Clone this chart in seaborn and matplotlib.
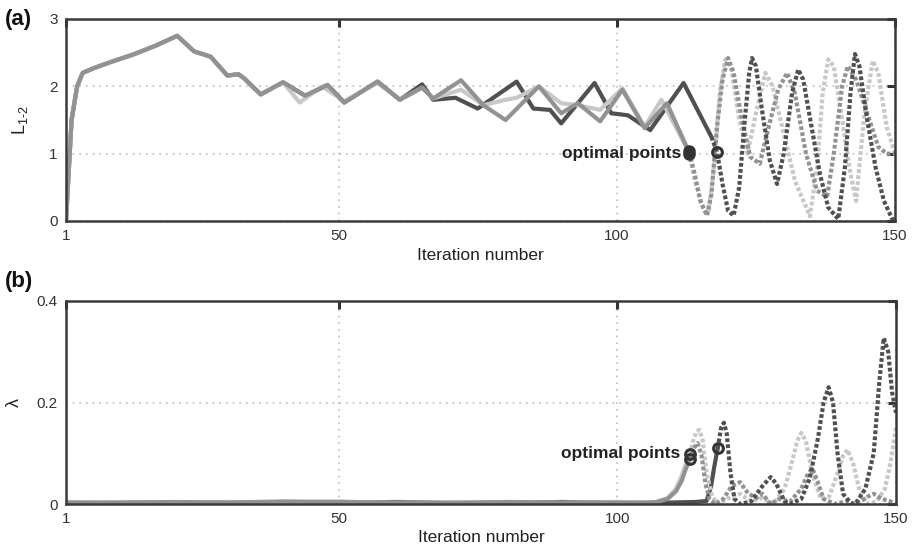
import matplotlib
matplotlib.use("Agg")
import matplotlib.pyplot as plt
import seaborn as sns
import pandas as pd

# ---------------- data (knots) ----------------
xticks = [1, 50, 100, 150]
top_yticks = [0, 1, 2, 3]
bot_yticks = [0, 0.2, 0.4]
bot_yticklabels = ["0", "0.2", "0.4"]

common_x = [1, 2, 3, 4, 6, 9, 13, 17, 21, 24, 27, 30, 32, 33, 36, 40]
common_y = [0, 1.5, 2.0, 2.2, 2.27, 2.36, 2.47, 2.6, 2.75, 2.52, 2.44, 2.16, 2.18, 2.12, 1.88, 2.06]

# panel (a) solid parts
light_a_x = [43, 47, 51, 57, 61, 65, 67, 72, 76, 80, 82, 86, 90, 93, 97, 101, 105, 108, 113]
light_a_y = [1.76, 2.0, 1.78, 2.05, 1.8, 1.98, 1.82, 1.95, 1.72, 1.8, 1.83, 2.0, 1.75, 1.72, 1.65, 1.97, 1.4, 1.8, 1.02]
mid_a_x = [44, 48, 51, 57, 61, 65, 67, 72, 76, 80, 86, 90, 93, 97, 101, 105, 109, 113]
mid_a_y = [1.86, 2.02, 1.76, 2.07, 1.8, 1.98, 1.82, 2.09, 1.72, 1.5, 2.0, 1.6, 1.75, 1.48, 1.95, 1.38, 1.75, 1.02]
dark_a_x = [44, 48, 51, 57, 61, 65, 67, 71, 75, 82, 85, 88, 90, 96, 99, 102, 106, 112, 117]
dark_a_y = [1.86, 2.02, 1.76, 2.07, 1.8, 2.03, 1.8, 1.83, 1.67, 2.07, 1.67, 1.65, 1.45, 2.05, 1.6, 1.57, 1.35, 2.05, 1.25]

# panel (a) dotted continuations
light_ad_x = [113, 114, 115.5, 116.5, 117.5, 118.5, 119.5, 120.5, 122, 123.5, 125, 126.7, 128, 130, 132,
              134.7, 136, 137, 138, 139, 140.5, 142, 143, 144.5, 146, 147, 148.5, 150]
light_ad_y = [1.02, 0.6, 0.2, 0.12, 0.8, 1.9, 2.4, 2.3, 1.5, 1.0, 1.6, 2.2, 2.0, 1.3, 0.6,
              0.07, 0.8, 1.9, 2.4, 2.3, 1.5, 0.7, 0.3, 1.6, 2.38, 2.2, 1.4, 1.0]
mid_ad_x = [113, 114, 115, 116.2, 117, 118, 119, 120, 121, 122.5, 124, 125.7, 127, 129, 130.6, 132, 134,
            136, 137.8, 139, 140.5, 141.5, 143, 145, 147, 148.5, 150]
mid_ad_y = [1.02, 0.7, 0.3, 0.08, 0.4, 1.4, 2.1, 2.42, 2.2, 1.5, 0.95, 0.85, 1.3, 1.95, 2.2, 1.9, 1.0,
            0.45, 0.36, 1.0, 2.0, 2.3, 2.1, 1.6, 1.1, 1.0, 1.0]
dark_ad_x = [117, 118, 119, 120, 121, 122, 123, 123.8, 124.3, 125, 126, 127.5, 128.8, 130, 131.5, 132.6,
             133.5, 135, 136.5, 138, 139.8, 141, 142, 142.8, 143.6, 145, 146.5, 148, 149.5, 150]
dark_ad_y = [1.25, 1.03, 0.55, 0.15, 0.08, 0.5, 1.5, 2.2, 2.42, 2.3, 1.7, 0.9, 0.55, 1.0, 1.9, 2.25,
             2.1, 1.4, 0.7, 0.2, 0.03, 0.8, 1.9, 2.48, 2.3, 1.5, 0.8, 0.3, 0.03, 0.0]

# panel (b) solid parts
base_b_x = [1, 10, 20, 30, 40, 50, 60, 70, 80, 90, 100, 105]
light_b_base = [0.004, 0.003, 0.002, 0.004, 0.003, 0.005, 0.002, 0.004, 0.003, 0.002, 0.004, 0.003]
mid_b_base = [0.003, 0.002, 0.004, 0.003, 0.005, 0.004, 0.003, 0.002, 0.004, 0.003, 0.003, 0.002]
dark_b_base = [0.002, 0.003, 0.003, 0.002, 0.004, 0.003, 0.004, 0.003, 0.002, 0.004, 0.002, 0.003]
light_b_x = [107, 109, 110.5, 111.5, 112.3, 113]
light_b_y = [0.004, 0.012, 0.03, 0.055, 0.08, 0.098]
mid_b_x = [107, 109, 110.5, 111.5, 112.3, 113]
mid_b_y = [0.004, 0.01, 0.025, 0.045, 0.07, 0.088]
dark_b_x = [110, 114, 116, 116.8, 117.4, 118]
dark_b_y = [0.003, 0.004, 0.006, 0.035, 0.075, 0.11]

# panel (b) dotted continuations
light_bd_x = [113, 113.6, 114.2, 114.7, 115.3, 116, 117, 118, 120, 122, 124, 126, 128, 130, 131.5, 132.3,
              133, 133.8, 135, 136.5, 138, 139.5, 140.5, 141.3, 142.3, 143.5, 145, 146.5, 148, 149, 150]
light_bd_y = [0.098, 0.125, 0.143, 0.146, 0.125, 0.06, 0.015, 0.0, 0.012, 0.02, 0.005, 0.012, 0.0, 0.03,
              0.09, 0.125, 0.14, 0.125, 0.06, 0.01, 0.015, 0.06, 0.095, 0.107, 0.08, 0.025, 0.0, 0.005,
              0.03, 0.08, 0.15]
mid_bd_x = [113, 113.7, 114.4, 115.1, 115.8, 116.5, 117.5, 119, 120.5, 122, 123.5, 125, 126, 127.5, 129,
            131, 133, 134.2, 135, 135.9, 137, 139, 141, 143, 145, 146, 147.5, 149, 150]
mid_bd_y = [0.088, 0.11, 0.12, 0.095, 0.04, 0.01, 0.0, 0.01, 0.035, 0.043, 0.02, 0.012, 0.02, 0.0, 0.01,
            0.005, 0.03, 0.06, 0.07, 0.045, 0.01, 0.0, 0.005, 0.0, 0.015, 0.02, 0.01, 0.005, 0.0]
dark_bd_x = [118, 118.6, 119.1, 119.6, 120.3, 121, 122, 124, 126, 127.5, 128.5, 130, 131, 133, 134.5,
             136, 137, 137.9, 138.7, 139.5, 140.5, 142, 143, 144.5, 146, 147, 147.8, 148.6, 149.3, 150]
dark_bd_y = [0.11, 0.15, 0.16, 0.14, 0.06, 0.01, 0.0, 0.005, 0.035, 0.053, 0.04, 0.005, 0.0, 0.01, 0.05,
             0.13, 0.2, 0.23, 0.2, 0.1, 0.02, 0.0, 0.005, 0.03, 0.1, 0.24, 0.327, 0.3, 0.22, 0.18]

# optimal points
opt_a_x = [113, 113, 118]
opt_a_y = [1.0, 1.04, 1.03]
opt_b_x = [113, 113, 118]
opt_b_y = [0.098, 0.088, 0.11]

# ---------------- styling ----------------
sns.set_theme(style="white")
plt.rcParams["font.family"] = ["Liberation Sans", "DejaVu Sans"]
plt.rcParams["mathtext.fontset"] = "custom"
plt.rcParams["mathtext.rm"] = "Liberation Sans"
plt.rcParams["mathtext.it"] = "Liberation Sans"

LIGHT = "#c8c8c8"
MID = "#929292"
DARK = "#505050"
TXT = "#222222"

fig = plt.figure(figsize=(9.16, 5.54), dpi=100)
ax1 = fig.add_axes([66 / 916, 1 - 221 / 554, 829 / 916, 202 / 554])
ax2 = fig.add_axes([66 / 916, 1 - 504 / 554, 830 / 916, 203 / 554])

SOLID_LW = 3.0
DOT_LW = 3.0
DOTS = (0, (0.9, 0.55))


def line(ax, xs, ys, color, dotted=False):
    df = pd.DataFrame({"x": xs, "y": ys})
    kw = dict(linestyle=DOTS, lw=DOT_LW) if dotted else dict(lw=SOLID_LW, solid_joinstyle="round")
    sns.lineplot(data=df, x="x", y="y", ax=ax, color=color, estimator=None, **kw)


# panel (a): solid lines (dark, light, then mid on top), dotted continuations
for c, xs, ys in [(DARK, dark_a_x, dark_a_y), (LIGHT, light_a_x, light_a_y), (MID, mid_a_x, mid_a_y)]:
    line(ax1, common_x + xs, common_y + ys, c)
for c, xs, ys in [(LIGHT, light_ad_x, light_ad_y), (MID, mid_ad_x, mid_ad_y), (DARK, dark_ad_x, dark_ad_y)]:
    line(ax1, xs, ys, c, dotted=True)
ax1.plot(opt_a_x[:2], opt_a_y[:2], linestyle="none", marker="o", ms=7, mfc="#333333", mec="#333333", mew=2.0)
ax1.plot(opt_a_x[2:], opt_a_y[2:], linestyle="none", marker="o", ms=7, mfc="none", mec="#333333", mew=2.2)
ax1.text(111.6, 1.0, "optimal points", ha="right", va="center", fontsize=12.5,
         fontweight="bold", color=TXT)

# panel (b)
for c, base, xs, ys in [(DARK, dark_b_base, dark_b_x, dark_b_y),
                        (LIGHT, light_b_base, light_b_x, light_b_y),
                        (MID, mid_b_base, mid_b_x, mid_b_y)]:
    line(ax2, base_b_x + xs, base + ys, c)
for c, xs, ys in [(LIGHT, light_bd_x, light_bd_y), (MID, mid_bd_x, mid_bd_y), (DARK, dark_bd_x, dark_bd_y)]:
    line(ax2, xs, ys, c, dotted=True)
ax2.plot(opt_b_x, opt_b_y, linestyle="none", marker="o", ms=7, mfc="none", mec="#333333", mew=2.2)
ax2.text(111.2, 0.1, "optimal points", ha="right", va="center", fontsize=12.5,
         fontweight="bold", color=TXT)

for ax in (ax1, ax2):
    ax.set_xlim(1, 150)
    ax.set_xticks(xticks)
    ax.set_xticklabels([str(t) for t in xticks])
    ax.set_xlabel("Iteration number", fontsize=12.5, color=TXT, labelpad=3)
    ax.grid(True, linestyle=(0, (1, 3)), color="#bdbdbd", lw=1.2)
    ax.tick_params(direction="in", length=6, width=2.2, color="#333333", top=True, right=True,
                   labelsize=11, labelcolor="#333333", pad=6)
    for sp in ax.spines.values():
        sp.set_color("#3a3a3a")
        sp.set_linewidth(1.8)
        sp.set_visible(True)
    ax.set_facecolor("white")

ax1.set_ylim(0, 3)
ax1.set_yticks(top_yticks)
ax1.set_yticklabels([str(t) for t in top_yticks])
ax1.set_ylabel(r"L$_{1\text{-}2}$", fontsize=13, color=TXT)
ax1.yaxis.set_label_coords(-0.044, 0.5)

ax2.set_ylim(0, 0.4)
ax2.set_yticks(bot_yticks)
ax2.set_yticklabels(bot_yticklabels)
ax2.set_ylabel("λ", fontsize=13, color=TXT)
ax2.yaxis.set_label_coords(-0.052, 0.5)

fig.text(5 / 916, 1 - 19 / 554, "(a)", fontsize=16, fontweight="bold", color="#111111", va="center")
fig.text(5 / 916, 1 - 282 / 554, "(b)", fontsize=16, fontweight="bold", color="#111111", va="center")

fig.savefig("out.png", dpi=100, facecolor="white")
